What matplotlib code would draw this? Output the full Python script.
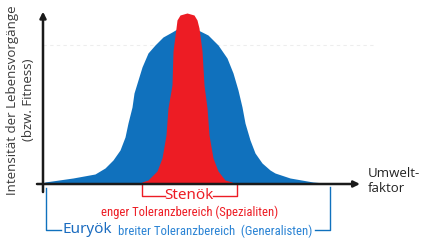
"""
Toleranzkurven: stenök vs. euryök
"""
import matplotlib
matplotlib.use("Agg")
import matplotlib.pyplot as plt
from matplotlib import font_manager

# Umweltfaktor (0..100) und Intensitaet (0..100)
eury_x = [0, 0.63, 9.46, 16.40, 19.56, 22.08, 24.29, 25.87, 26.81, 28.08, 28.71,
          29.97, 31.23, 33.12, 35.33, 37.85, 40.69, 42.27, 45.43, 48.90, 52.05,
          55.21, 58.04, 59.94, 61.51, 62.78, 63.72, 65.30, 66.88, 69.09, 71.61,
          73.19, 77.92, 85.17, 90.54]
eury_y = [0, 1.17, 3.51, 5.85, 9.36, 14.04, 19.88, 27.49, 35.67, 45.03, 53.22,
          60.82, 68.42, 76.61, 81.29, 85.96, 88.89, 90.64, 91.52, 90.06, 87.13,
          81.29, 73.68, 64.91, 54.97, 45.03, 35.67, 25.73, 18.13, 12.28, 8.19,
          6.43, 3.51, 1.17, 0.3]

steno_x = [30.60, 31.23, 33.12, 35.96, 37.54, 38.80, 39.43, 40.69, 41.01, 41.96,
           42.27, 43.22, 45.43, 47.63, 48.58, 49.21, 50.16, 50.79, 51.74, 52.37,
           53.63, 55.21, 57.41, 59.62, 60.25]
steno_y = [0, 1.17, 2.34, 7.60, 15.20, 28.65, 44.44, 57.89, 77.78, 91.23,
           95.91, 98.83, 100, 98.83, 95.91, 91.23, 77.78, 57.89, 44.44, 28.65,
           15.20, 7.60, 2.34, 1.17, 0]

steno_range = (31.2, 61.2)
eury_range = (0.9, 90.5)

ylabel = "Intensität der Lebensvorgänge\n(bzw. Fitness)"
xlabel = "Umwelt-\nfaktor"
steno_name = "Stenök"
steno_text = "enger Toleranzbereich (Spezialiten)"
eury_name = "Euryök"
eury_text = "breiter Toleranzbereich  (Generalisten)"

BLUE = "#1071bd"
RED = "#ed1c24"
TXT = "#3a3a3a"

W, H = 430, 245

# schmale Schrift suchen, falls vorhanden
names = {f.name for f in font_manager.fontManager.ttflist}
cond = dict(family=["Roboto", "DejaVu Sans"])
if "Liberation Sans Narrow" in names:
    cond = dict(family=["Liberation Sans Narrow", "DejaVu Sans"])
elif "Roboto Condensed" in names:
    cond = dict(family=["Roboto Condensed", "DejaVu Sans"])
elif any(f.name == "DejaVu Sans" and "Condensed" in f.fname
         for f in font_manager.fontManager.ttflist):
    cond = dict(family=["DejaVu Sans"], fontstretch="condensed")


def fx(px):
    return px / W


def fy(py):
    return 1 - py / H


fig = plt.figure(figsize=(4.3, 2.45), dpi=100)
ax = fig.add_axes([fx(43), fy(184), 317 / W, 171 / H])
ax.set_xlim(0, 100)
ax.set_ylim(0, 100)
ax.axis("off")

# schwache gestrichelte Linie im Hintergrund
ax.plot([0, 105], [81.3, 81.3], color="#ededed", lw=0.8, ls=(0, (3, 3)),
        clip_on=False, zorder=0)

ax.fill_between(eury_x, eury_y, 0, color=BLUE, lw=0, zorder=1)
ax.fill_between(steno_x, steno_y, 0, color=RED, lw=0, zorder=2)

# Achsen mit Pfeilen
arr = dict(arrowstyle="-|>", color="#1a1a1a", lw=1.8, mutation_scale=9,
           shrinkA=0, shrinkB=0)
ax.annotate("", xy=(100, 0), xytext=(-1.9, 0), annotation_clip=False,
            arrowprops=arr, zorder=3)
ax.annotate("", xy=(0, 100.8), xytext=(0, -4.7), annotation_clip=False,
            arrowprops=arr, zorder=3)

# Klammer stenoek
y1 = -7.0
ax.plot([steno_range[0], steno_range[0], 38.6], [-0.5, y1, y1], color=RED, lw=1,
        clip_on=False)
ax.plot([53.5, steno_range[1], steno_range[1]], [y1, y1, -0.5], color=RED, lw=1,
        clip_on=False)
ax.text(46, y1, steno_name, color=RED, fontsize=11, ha="center", va="center",
        family=["Noto Sans", "DejaVu Sans"])
t_steno = ax.text(46.2, -16.4, steno_text, color=RED, fontsize=9,
                  ha="center", va="center", **cond)

# Klammer euryoek
y2 = -26.9
ax.plot([eury_range[0], eury_range[0], 5.8], [-2.5, y2, y2], color=BLUE, lw=1,
        clip_on=False)
ax.plot([85.8, eury_range[1], eury_range[1]], [y2, y2, -1.5], color=BLUE, lw=1,
        clip_on=False)
ax.text(6.3, y2, eury_name, color="#1b6cc0", fontsize=11, ha="left",
        va="center", family=["Noto Sans", "DejaVu Sans"])
t_eury = ax.text(23.6, y2 - 0.8, eury_text, color="#2a83d4", fontsize=9,
                 ha="left", va="center", **cond)

# schmale Texte auf die Breite im Original bringen
renderer = fig.canvas.get_renderer()
for t, target in [(t_steno, 176), (t_eury, 194)]:
    w = t.get_window_extent(renderer).width
    t.set_fontsize(t.get_fontsize() * target / w)

fig.text(fx(368), fy(181), xlabel, color="#222222", fontsize=9.5, ha="left",
         va="center", linespacing=1.25, family=["Open Sans", "DejaVu Sans"])
fig.text(fx(21), fy(100), ylabel, color=TXT, fontsize=9.5, ha="center",
         va="center", rotation=90, linespacing=1.3,
         family=["Open Sans", "DejaVu Sans"])

fig.savefig("out.png", dpi=100)
